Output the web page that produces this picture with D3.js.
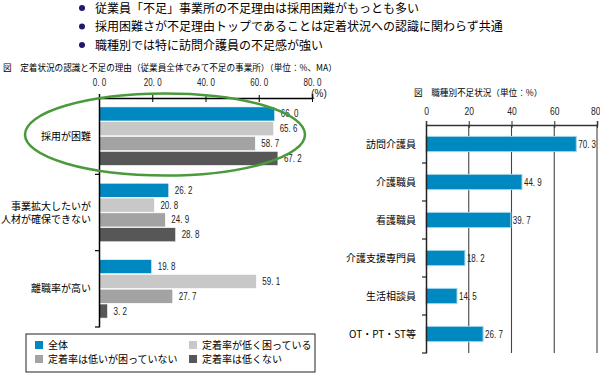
<!DOCTYPE html>
<meta charset="utf-8">
<style>
body { margin: 0; background: #fff; }
svg { font-family: "Noto Sans CJK JP", sans-serif; }
.num { font-family: "Liberation Sans", Arial, sans-serif; font-size: 10px; fill: #222; }
.lbl { font-size: 10px; fill: #000; }
.ttl { font-size: 8.6px; fill: #000; }
.bul { font-size: 12px; fill: #000; }
</style>
<body>
<svg width="600" height="373"></svg>
<script src="https://d3js.org/d3.v7.min.js"></script>
<script>

var bullets = [
  "従業員「不足」事業所の不足理由は採用困難がもっとも多い",
  "採用困難さが不足理由トップであることは定着状況への認識に関わらず共通",
  "職種別では特に訪問介護員の不足感が強い"
];

// left chart
var reasons = [["採用が困難"], ["事業拡大したいが", "人材が確保できない"], ["離職率が高い"]];
var series = ["全体", "定着率が低く困っている", "定着率は低いが困っていない", "定着率は低くない"];
var seriesColors = ["#0088c0", "#c8c8c8", "#a3a3a3", "#575757"];
var reasonValues = [
  [66.0, 65.6, 58.7, 67.2],
  [26.2, 20.8, 24.9, 28.8],
  [19.8, 59.1, 27.7, 3.2]
];
var leftTicks = [0, 20, 40, 60, 80];

// right chart
var jobs = ["訪問介護員", "介護職員", "看護職員", "介護支援専門員", "生活相談員", "OT・PT・ST等"];
var jobValues = [70.3, 44.9, 39.7, 18.2, 14.5, 26.7];
var rightTicks = [0, 20, 40, 60, 80];

var fmt = function(d) { return d3.format(".1f")(d).replace(".", ". "); };

// squeeze number labels to look like the narrow font of the original
function narrow(sel, k) {
  sel.each(function() {
    var w = this.getComputedTextLength();
    d3.select(this).attr("textLength", w * k).attr("lengthAdjust", "spacingAndGlyphs");
  });
}

var svg = d3.select("svg");

// bullets
svg.selectAll(".bdot").data(bullets).enter().append("circle")
    .attr("cx", 82).attr("cy", function(d, i) { return 8 + i * 18.5; })
    .attr("r", 3).attr("fill", "#1f1a6b");
svg.selectAll(".bul").data(bullets).enter().append("text")
    .attr("class", "bul")
    .attr("x", 95).attr("y", function(d, i) { return 8 + i * 18.5; })
    .attr("dy", "0.38em")
    .text(function(d) { return d; });

// ---------- left chart ----------
svg.append("text").attr("class", "ttl").attr("x", 3).attr("y", 71)
    .text("図　定着状況の認識と不足の理由（従業員全体でみて不足の事業所）（単位：%、MA）");

var x1 = d3.scaleLinear().domain([0, 80]).range([99, 312]);
var y1 = d3.scaleBand().domain(d3.range(reasons.length)).range([98, 327]);
var ys = d3.scaleBand().domain(d3.range(series.length))
    .range([0, y1.bandwidth()]).paddingOuter(0.6).paddingInner(0.05);

var gl = svg.append("g");

var grp = gl.selectAll(".grp").data(reasonValues).enter().append("g")
    .attr("transform", function(d, i) { return "translate(0," + y1(i) + ")"; });

grp.selectAll("rect").data(function(d) { return d; }).enter().append("rect")
    .attr("x", x1(0))
    .attr("y", function(d, j) { return ys(j); })
    .attr("width", function(d) { return x1(d) - x1(0); })
    .attr("height", ys.bandwidth())
    .attr("fill", function(d, j) { return seriesColors[j]; })
    .attr("stroke", "#fff").attr("stroke-width", 0.6);

grp.selectAll(".num").data(function(d) { return d; }).enter().append("text")
    .attr("class", "num")
    .attr("x", function(d) { return x1(d) + 6; })
    .attr("y", function(d, j) { return ys(j) + ys.bandwidth() / 2; })
    .attr("dy", "0.35em")
    .text(fmt)
    .call(narrow, 0.8);

var topAxis = d3.axisTop(x1).tickValues(leftTicks).tickSize(4).tickFormat(fmt);
var ta = gl.append("g").attr("transform", "translate(0,98)").call(topAxis);
ta.select(".domain").attr("stroke", "#000").attr("stroke-width", 1.5);
ta.selectAll(".tick line").attr("stroke", "#000").attr("y2", 4).attr("y1", -3);
ta.selectAll(".tick text").attr("class", "num").attr("y", -12).attr("dy", 0)
    .call(narrow, 0.8);
gl.append("text").attr("class", "num").attr("x", 319).attr("y", 97)
    .attr("text-anchor", "middle").attr("font-size", 8.5).text("(%)");

var la = gl.append("g").attr("transform", "translate(" + x1(0) + ",0)")
    .call(d3.axisLeft(y1).tickSize(0).tickFormat(""));
la.select(".domain").attr("stroke", "#000").attr("stroke-width", 1.5);
gl.selectAll(".ytick").data(d3.range(1, reasons.length + 1)).enter().append("line")
    .attr("x1", x1(0) - 4).attr("x2", x1(0))
    .attr("y1", function(i) { return i < reasons.length ? y1(i) : y1.range()[1]; })
    .attr("y2", function(i) { return i < reasons.length ? y1(i) : y1.range()[1]; })
    .attr("stroke", "#000").attr("stroke-width", 1.2);

gl.selectAll(".cat").data(reasons).enter().append("text")
    .attr("class", "lbl").attr("text-anchor", "end")
    .each(function(d, i) {
      var t = d3.select(this);
      var cy = y1(i) + y1.bandwidth() / 2;
      d.forEach(function(line, k) {
        t.append("tspan").attr("x", 91)
          .attr("y", cy + (k - (d.length - 1) / 2) * 13)
          .attr("dy", "0.35em").text(line);
      });
    });

// highlight ellipse
gl.append("ellipse")
    .attr("cx", 165).attr("cy", 134.5)
    .attr("rx", 140).attr("ry", 41)
    .attr("fill", "none").attr("stroke", "#4a9a3c").attr("stroke-width", 2.5);

// legend
var lg = svg.append("g");
lg.append("rect").attr("x", 26).attr("y", 334).attr("width", 289).attr("height", 38)
    .attr("fill", "#fff").attr("stroke", "#222").attr("stroke-width", 1);
var li = lg.selectAll(".li").data(series).enter().append("g")
    .attr("transform", function(d, i) {
      return "translate(" + (i % 2 ? 189 : 35) + "," + (i < 2 ? 345 : 359) + ")";
    });
li.append("rect").attr("x", 0).attr("y", -4).attr("width", 8).attr("height", 8)
    .attr("fill", function(d, i) { return seriesColors[i]; });
li.append("text").attr("class", "lbl").attr("x", 13).attr("dy", "0.35em")
    .attr("font-size", 9.5).text(function(d) { return d; });

// ---------- right chart ----------
svg.append("text").attr("class", "ttl").attr("x", 414).attr("y", 96)
    .attr("font-size", 10.8).text("図　職種別不足状況（単位：%）");

var x2 = d3.scaleLinear().domain([0, 80]).range([426, 597]);
var y2 = d3.scaleBand().domain(jobs).range([125, 353]).paddingInner(0.6).paddingOuter(0.3);

var gr = svg.append("g");

gr.selectAll(".grid").data(rightTicks.slice(1)).enter().append("line")
    .attr("x1", x2).attr("x2", x2).attr("y1", 125).attr("y2", 353)
    .attr("stroke", "#444").attr("stroke-width", 1.1);

gr.selectAll(".bar").data(jobValues).enter().append("rect")
    .attr("x", x2(0))
    .attr("y", function(d, i) { return y2(jobs[i]); })
    .attr("width", function(d) { return x2(d) - x2(0); })
    .attr("height", y2.bandwidth())
    .attr("fill", "#0088c0").attr("stroke", "#9fd3ec").attr("stroke-width", 1);

gr.selectAll(".num").data(jobValues).enter().append("text")
    .attr("class", "num")
    .attr("x", function(d) { return x2(d) + 2; })
    .attr("y", function(d, i) { return y2(jobs[i]) + y2.bandwidth() / 2; })
    .attr("dy", "0.35em")
    .text(fmt)
    .call(narrow, 0.8);

var ra = gr.append("g").attr("transform", "translate(0,125)")
    .call(d3.axisTop(x2).tickValues(rightTicks).tickSize(4));
ra.select(".domain").attr("stroke", "#333").attr("stroke-width", 1.5);
ra.selectAll(".tick line").attr("stroke", "#333").attr("y1", -4).attr("y2", 3);
ra.selectAll(".tick text").attr("class", "num").attr("y", -10).attr("dy", 0)
    .call(narrow, 0.85);
// keep the last tick label inside the frame
ra.selectAll(".tick text").filter(function(d) { return d === 80; })
    .attr("text-anchor", "end").attr("x", 3);

var rl = gr.append("g").attr("transform", "translate(" + x2(0) + ",0)")
    .call(d3.axisLeft(y2).tickSize(0).tickFormat(""));
rl.select(".domain").attr("stroke", "#222").attr("stroke-width", 1.5);
var step = (353 - 125) / jobs.length;
gr.selectAll(".rtick").data(d3.range(1, jobs.length + 1)).enter().append("line")
    .attr("x1", x2(0) - 4).attr("x2", x2(0))
    .attr("y1", function(i) { return 125 + i * step; })
    .attr("y2", function(i) { return 125 + i * step; })
    .attr("stroke", "#222").attr("stroke-width", 1.2);

gr.selectAll(".jl").data(jobs).enter().append("text")
    .attr("class", "lbl").attr("text-anchor", "end")
    .attr("font-size", 10.5)
    .attr("x", 416)
    .attr("y", function(d) { return y2(d) + y2.bandwidth() / 2; })
    .attr("dy", "0.35em")
    .text(function(d) { return d; });

</script>
</body>
